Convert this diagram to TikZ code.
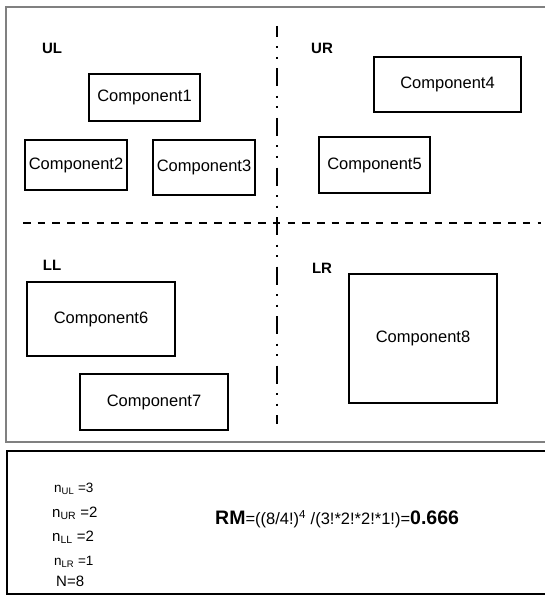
\documentclass[tikz,border=0pt]{standalone}
\usepackage{fontspec}
\setmainfont{Liberation Sans}
\begin{document}
\begin{tikzpicture}[x=1pt,y=-1pt,
  box/.style={draw=black,line width=1.6pt,inner sep=0pt,font=\fontsize{16.5}{19}\selectfont},
  quad/.style={font=\fontsize{15}{17}\selectfont\bfseries},
  counts/.style={anchor=west,inner sep=0pt,font=\fontsize{15}{17}\selectfont},
  countsm/.style={anchor=west,inner sep=0pt,font=\fontsize{13.5}{15}\selectfont}]
\useasboundingbox (0,0) rectangle (545,596);
\clip (0,0) rectangle (545,596);
% panels
\draw[line width=2pt,draw=black!50] (6,7) rectangle (560,442);
\draw[line width=2.6pt,draw=black] (7,451) rectangle (560,594);
% quadrant separators
\coordinate (vtop) at (277,26);
\coordinate (vbot) at (277,424);
\coordinate (hl) at (23,223);
\coordinate (hr) at (541,223);
\draw[line width=2pt,dash pattern=on 7.5pt off 7.2pt] (hl) -- (hr);
\draw[line width=2pt,dash pattern=on 18pt off 9.5pt on 2pt off 8.5pt on 2pt off 9.5pt,dash phase=7pt] (vtop) -- (vbot);
% quadrant labels
\node[quad] (ul) at (52,48) {UL};
\node[quad] (ur) at (322,48) {UR};
\node[quad] (ll) at (52,265) {LL};
\node[quad] (lr) at (322,268) {LR};
% components
\node[box,minimum width=111pt,minimum height=47pt] (c1) at (144.5,97.5) {Component1};
\node[box,minimum width=102pt,minimum height=50pt] (c2) at (76,165) {Component2};
\node[box,minimum width=102pt,minimum height=55pt] (c3) at (204,167.5) {Component3};
\node[box,minimum width=147pt,minimum height=55pt] (c4) at (447.5,84.5) {Component4};
\node[box,minimum width=111pt,minimum height=56pt] (c5) at (374.5,165) {Component5};
\node[box,minimum width=148pt,minimum height=74pt] (c6) at (101,319) {Component6};
\node[box,minimum width=148pt,minimum height=56pt] (c7) at (154,402) {Component7};
\node[box,minimum width=148pt,minimum height=129pt] (c8) at (423,338.5) {Component8};
% counts
\node[countsm] (nul) at (54,489) {n\textsubscript{UL} =3};
\node[counts] (nur) at (52,513) {n\textsubscript{UR} =2};
\node[counts] (nll) at (52,537) {n\textsubscript{LL} =2};
\node[countsm] (nlr) at (54,562) {n\textsubscript{LR} =1};
\node[counts] (ntot) at (56,581) {N=8};
% metric
\node[anchor=west,inner sep=0pt,font=\fontsize{16.5}{19}\selectfont] (rm) at (215,519)
  {{\fontsize{19.5}{21}\selectfont\bfseries RM}=((8/4!)\textsuperscript{4} /(3!*2!*2!*1!)={\fontsize{19.5}{21}\selectfont\bfseries 0.666}};
\end{tikzpicture}
\end{document}
